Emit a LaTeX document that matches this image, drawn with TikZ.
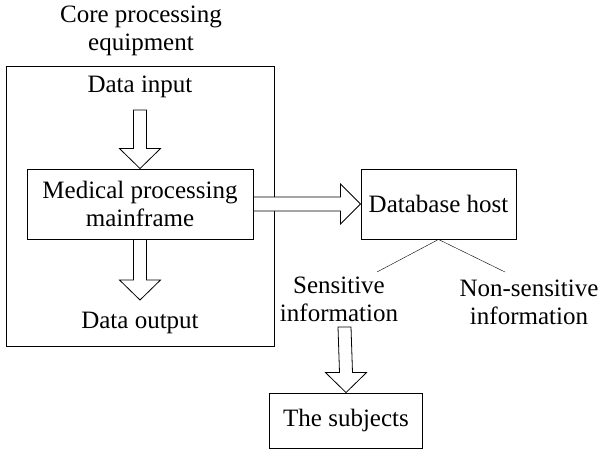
\documentclass[tikz,border=0pt]{standalone}
\usepackage{fontspec}
\setmainfont{Liberation Serif}
\usetikzlibrary{calc}

% hollow block arrows, #1 = tail, #2 = tip
\newcommand{\fatdown}[2]{\draw[fat] ($(#1)+(-6.5,0)$) -- ($(#2)+(-6.5,-20)$) -- ($(#2)+(-20.5,-20)$) -- (#2) -- ($(#2)+(20.5,-20)$) -- ($(#2)+(6.5,-20)$) -- ($(#1)+(6.5,0)$) -- cycle;}
\newcommand{\fatright}[2]{\draw[fat] ($(#1)+(0,-7)$) -- ($(#2)+(-20,-7)$) -- ($(#2)+(-20,-20)$) -- (#2) -- ($(#2)+(-20,20)$) -- ($(#2)+(-20,7)$) -- ($(#1)+(0,7)$) -- cycle;}

\begin{document}
\begin{tikzpicture}[x=1pt, y=-1pt, every node/.style={font=\fontsize{25}{28}\selectfont, align=center, inner sep=0pt},
		box/.style={draw, line width=0.9pt}, fat/.style={draw, line width=0.8pt, fill=white}]
				\useasboundingbox (0,0) rectangle (599,449);
				\node(title) at (141,31) {Core processing\\equipment};
				\node[box, minimum width=268, minimum height=280](core) at (140,206) {};
				\node(datain) at (140,87) {Data input};
				\node[box, minimum width=226, minimum height=70](medical) at (140,204) {Medical processing\\mainframe};
				\node(dataout) at (140,323) {Data output};
				\node[box, minimum width=155, minimum height=70](db) at (438.5,204) {Database host};
				\node(sens) at (339,299) {Sensitive\\information};
				\node(nonsens) at (529,302) {Non-sensitive\\information};
				\node[box, minimum width=153, minimum height=55](subj) at (346,420.5) {The subjects};
				\coordinate(inarrow) at (140,110);
				\coordinate(outarrow) at (140,300);
				\coordinate(sensarrow) at (344.5,327);
				\coordinate(sensend) at (377,272);
				\coordinate(nonsensend) at (505,272);
				\fatdown{inarrow}{medical.north}
				\fatdown{medical.south}{outarrow}
				\fatright{medical.east}{db.west}
				\fatdown{sensarrow}{subj.north}
				\draw(db.south) -- (sensend);
				\draw(db.south) -- (nonsensend);
		\end{tikzpicture}
\end{document}
